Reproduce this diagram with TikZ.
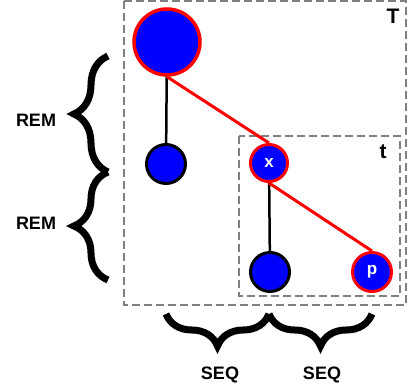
\documentclass[tikz,border=0pt]{standalone}
\usepackage{fontspec}
\setmainfont{Liberation Sans}
\usetikzlibrary{decorations.pathreplacing}
\definecolor{boxgray}{RGB}{128,128,128}
\tikzset{
  dot/.style={circle, fill=blue, draw=black, line width=3pt, inner sep=0pt, minimum size=39pt, text=white, font=\fontsize{17}{19}\selectfont\bfseries},
  hot/.style={draw=red},
  frame/.style={draw=boxgray, line width=2pt, dash pattern=on 8pt off 4pt},
  tree/.style={line width=2.5pt},
  hotedge/.style={draw=red, line width=3pt},
  bigbrace/.style={decorate, decoration={brace, amplitude=#1}, line width=7pt},
  lbl/.style={font=\fontsize{18}{20}\selectfont\bfseries, inner sep=0pt},
  corner/.style={font=\fontsize{21}{23}\selectfont\bfseries, inner sep=0pt}
}
\begin{document}
\begin{tikzpicture}[x=1pt, y=-1pt]
\useasboundingbox (0,0) rectangle (408,391);
% enclosing frames
\draw[frame] (124,1) rectangle (406,305);
\draw[frame] (239,136) rectangle (400,296);
\node[corner] (Tlabel) at (393,16) {T};
\node[corner] (tlabel) at (383,152) {t};
% tree nodes
\node[dot, hot, minimum size=66pt, line width=3.5pt] (root) at (167,42) {};
\node[dot] (left) at (166,164) {};
\node[dot, hot, minimum size=37pt] (x) at (269,163) {x};
\node[dot] (xl) at (270,272) {};
\node[dot, hot] (p) at (372,272) {p};
% edges
\draw[tree] (root) -- (left);
\draw[tree] (x) -- (xl);
\draw[hotedge] (root.south) -- (x.north);
\draw[hotedge] (x.south) -- (p.north);
% braces
\coordinate (r1) at (108,56);
\coordinate (r2) at (108,172);
\coordinate (r3) at (108,280);
\draw[bigbrace=34pt] (r2) -- (r1);
\draw[bigbrace=34pt] (r3) -- (r2);
\node[lbl] (rem1) at (36,120) {REM};
\node[lbl] (rem2) at (36,223) {REM};
\coordinate (s1) at (166,314);
\coordinate (s2) at (269,314);
\coordinate (s3) at (372,314);
\draw[bigbrace=32pt] (s2) -- (s1);
\draw[bigbrace=32pt] (s3) -- (s2);
\node[lbl] (seq1) at (220,375) {SEQ};
\node[lbl] (seq2) at (322,375) {SEQ};
\end{tikzpicture}
\end{document}
